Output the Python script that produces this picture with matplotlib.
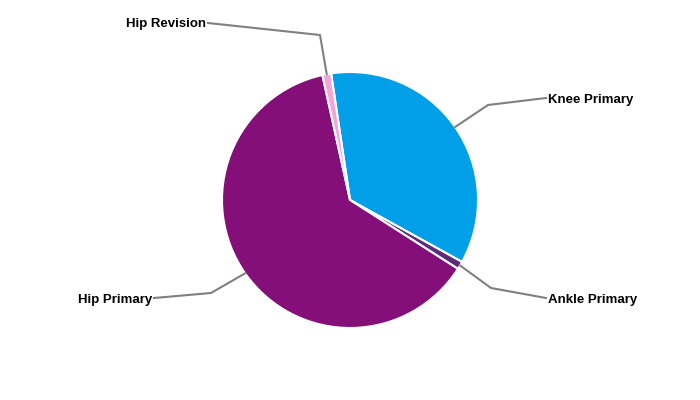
import numpy as np
import matplotlib
matplotlib.use("Agg")
import matplotlib.pyplot as plt

categories = ["Knee Primary", "Ankle Primary", "Hip Primary", "Hip Revision"]
values = [35.4, 1.0, 62.5, 1.1]
colors = ["#009FE8", "#5C2A7A", "#850F78", "#F0A6D8"]

plt.rcParams['font.family'] = ['Liberation Sans', 'DejaVu Sans']

W, H = 700, 400
fig = plt.figure(figsize=(7, 4), dpi=100)
ax = fig.add_axes([0, 0, 1, 1])
ax.set_xlim(0, W)
ax.set_ylim(0, H)
ax.set_aspect('equal')
ax.axis('off')

cx, cy, R = 350, 200, 128
start_cw_from_top = -8.5  # degrees clockwise from 12 o'clock
wedges, _ = ax.pie(values, colors=colors, startangle=90 - start_cw_from_top,
                   counterclock=False, radius=R, center=(cx, cy),
                   wedgeprops=dict(edgecolor='white', linewidth=1.5))
ax.set_xlim(0, W)
ax.set_ylim(0, H)

# label layout: (elbow x, elbow y, text x, text y, ha) in pixel coords (y down)
layout = {
    "Knee Primary": (488, 105, 548, 98, 'left'),
    "Ankle Primary": (491, 288, 548, 298, 'left'),
    "Hip Primary": (211, 293, 152, 298, 'right'),
    "Hip Revision": (320, 35, 206, 23, 'right'),
}

for w, name in zip(wedges, categories):
    mid = np.deg2rad((w.theta1 + w.theta2) / 2)
    px = cx + R * np.cos(mid)
    py = cy + R * np.sin(mid)
    ex, ey, tx, ty, ha = layout[name]
    lx = tx - 2 if ha == 'left' else tx + 2
    ax.plot([px, ex, lx], [py, H - ey, H - ty], color='#808080', lw=1.5,
            solid_joinstyle='round', zorder=1)
    ax.text(tx, H - ty - 1.5, name, ha=ha, va='center', fontsize=9.5,
            fontweight='bold', color='black')

fig.savefig("out.png", dpi=100)
